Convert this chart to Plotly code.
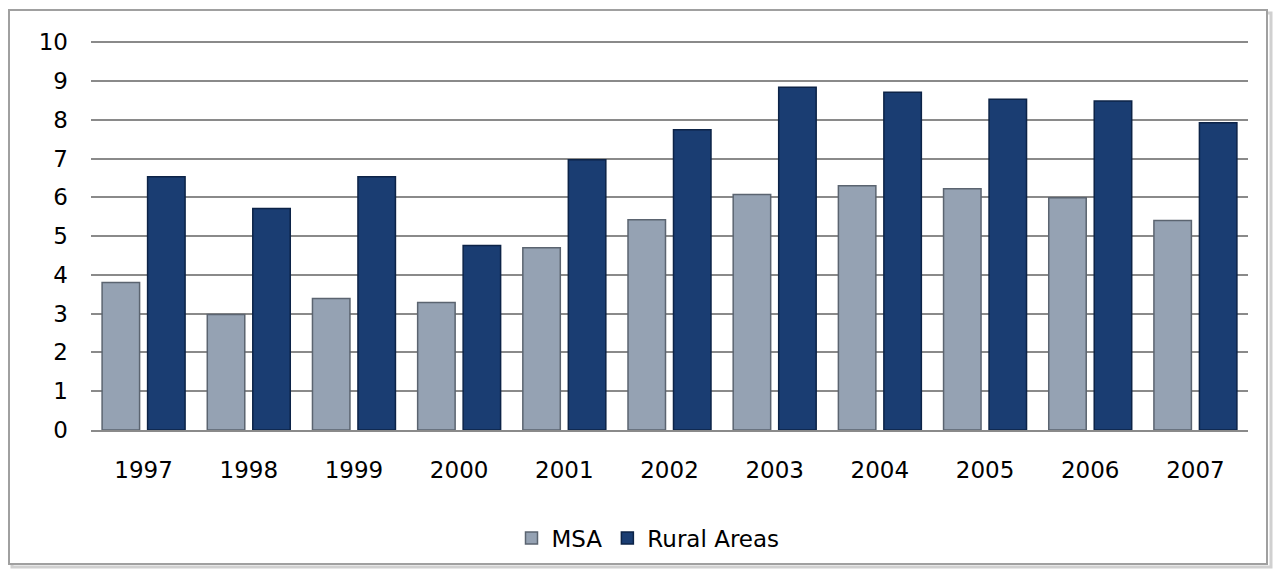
import plotly.graph_objects as go

years = ["1997", "1998", "1999", "2000", "2001", "2002", "2003", "2004", "2005", "2006", "2007"]
msa = [3.80, 2.98, 3.39, 3.29, 4.70, 5.42, 6.07, 6.30, 6.22, 5.99, 5.40]
rural = [6.53, 5.71, 6.53, 4.76, 6.97, 7.74, 8.84, 8.71, 8.53, 8.48, 7.92]
y_ticks = list(range(0, 11))

W, H = 1276, 571
L, R, T, B = 91, 28, 41, 141
pw, ph = W - L - R, H - T - B

def px_x(x):
    return (x - L) / pw

def px_y(y):
    return (H - B - y) / ph

fig = go.Figure()
fig.add_trace(go.Bar(
    x=years, y=msa, name="MSA",
    marker=dict(color="#95a2b3", line=dict(color="#5b6470", width=1.5)),
))
fig.add_trace(go.Bar(
    x=years, y=rural, name="Rural Areas",
    marker=dict(color="#1a3d72", line=dict(color="#0c2347", width=1.5)),
))

font = dict(family="DejaVu Sans, Verdana, sans-serif", size=23, color="#000000")

shapes = [
    # shadow
    dict(type="rect", xref="paper", yref="paper",
         x0=px_x(12), x1=px_x(1271), y0=px_y(13), y1=px_y(567),
         line=dict(color="#d0d0d0", width=3), fillcolor="rgba(0,0,0,0)", layer="below"),
    # frame
    dict(type="rect", xref="paper", yref="paper",
         x0=px_x(9), x1=px_x(1267), y0=px_y(10), y1=px_y(564),
         line=dict(color="#a0a0a0", width=2), fillcolor="white", layer="below"),
]

fig.update_layout(
    width=W, height=H,
    margin=dict(l=L, r=R, t=T, b=B),
    paper_bgcolor="white", plot_bgcolor="rgba(0,0,0,0)",
    barmode="group", bargap=0.135, bargroupgap=0.176,
    font=font,
    showlegend=True,
    legend=dict(orientation="h", x=px_x(648), xanchor="center", y=px_y(538), yanchor="middle",
                font=font, itemwidth=30, traceorder="normal", bgcolor="rgba(0,0,0,0)"),
    shapes=shapes,
    xaxis=dict(showgrid=False, showline=True, linecolor="#8a8a8a", linewidth=2,
               ticks="", ticklabelstandoff=18, tickfont=font),
    yaxis=dict(range=[0, 10.03], tickvals=y_ticks, showgrid=True, gridcolor="#8a8a8a", gridwidth=2,
               zeroline=False, showline=False, ticks="", ticklabelstandoff=22, tickfont=font),
)

fig.write_html("out.html", config={"displayModeBar": False},
               post_script="document.body.style.margin='0';")
